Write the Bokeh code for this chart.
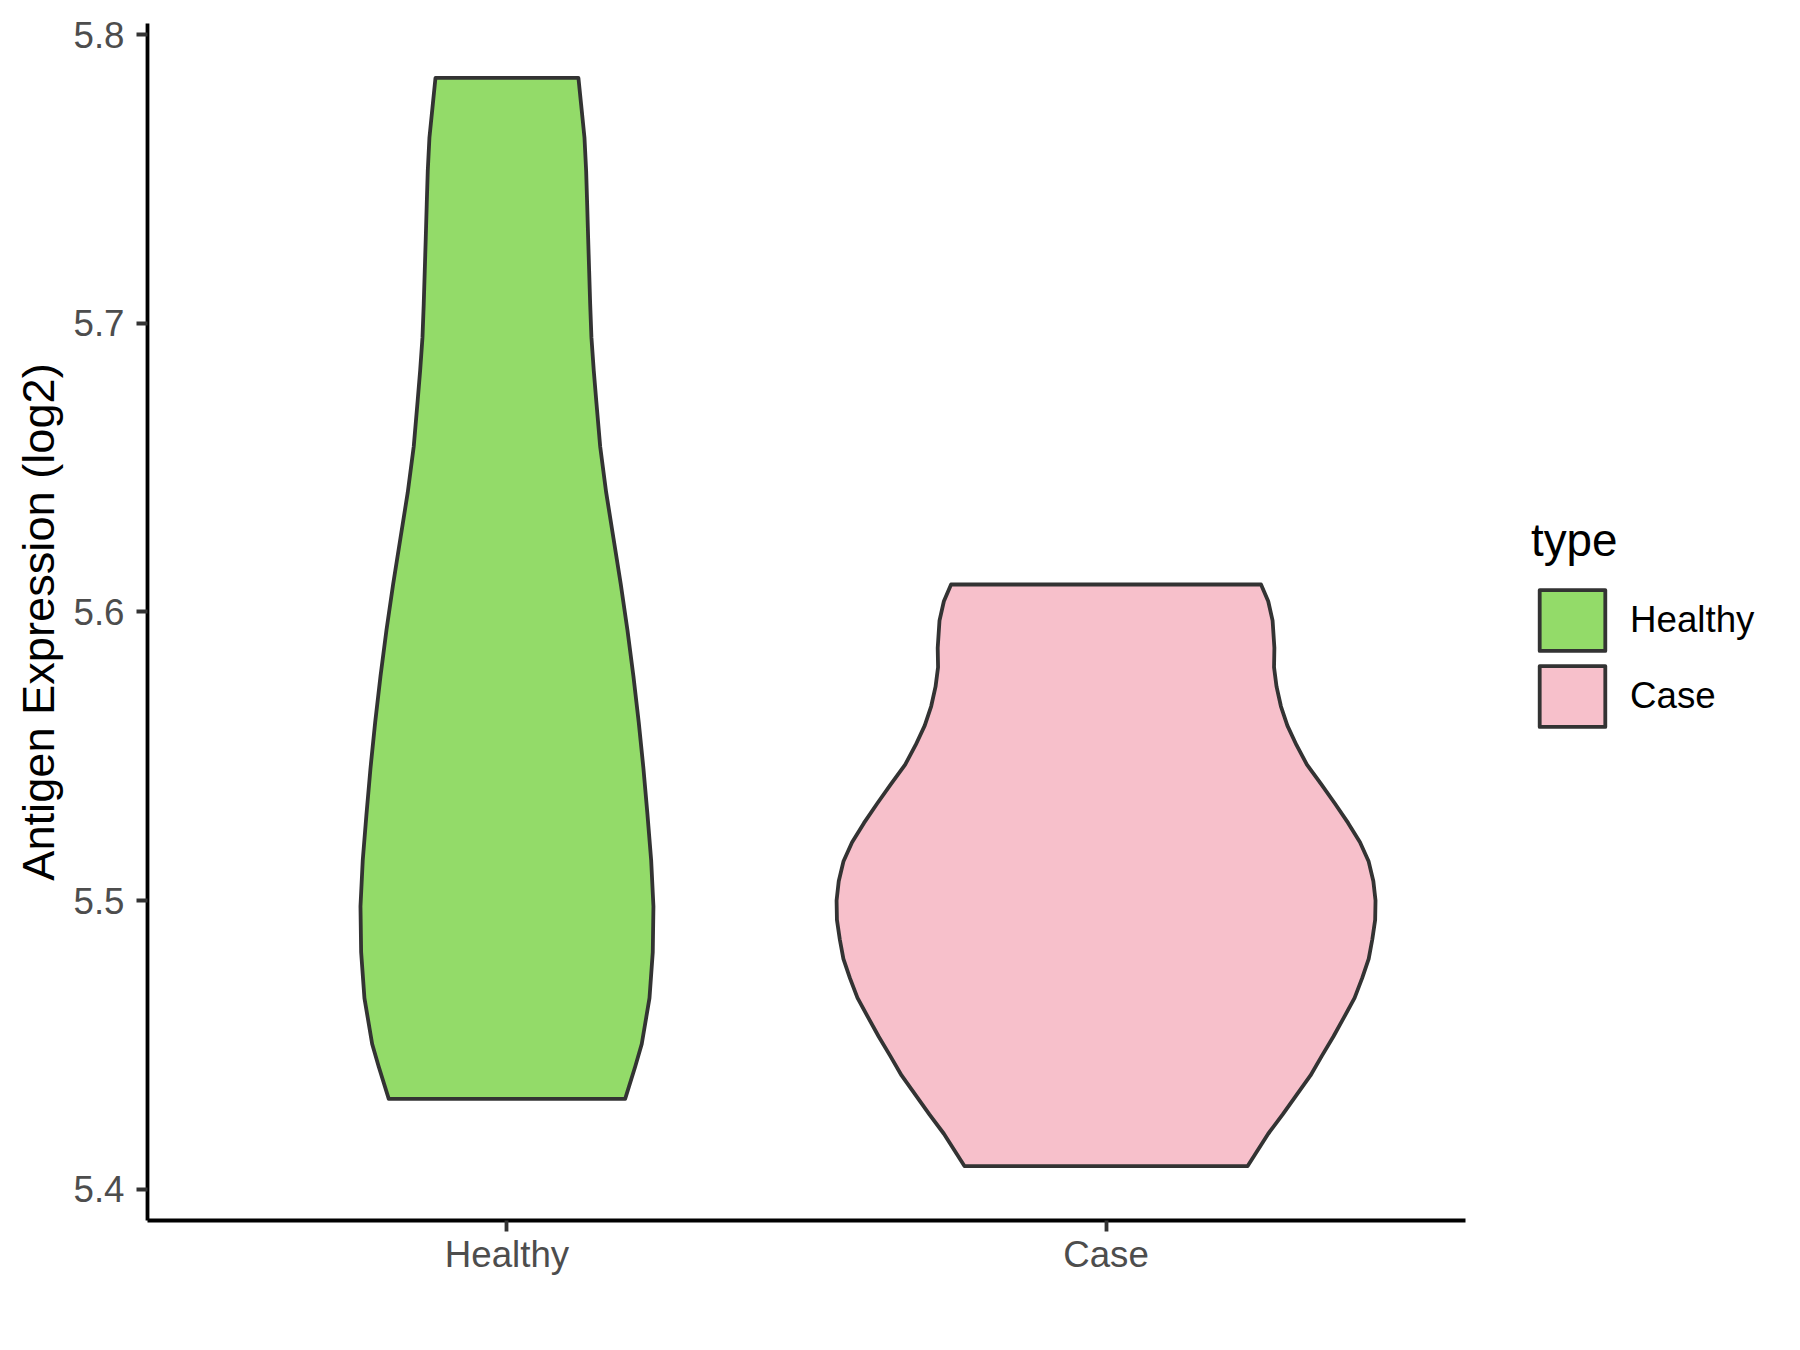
from bokeh.plotting import figure
from bokeh.models import FactorRange, Range1d, FixedTicker, Legend, LegendItem
from bokeh.embed import file_html
from bokeh.resources import INLINE

# ---- data ----
categories = ["Healthy", "Case"]
fill_colors = ["#93DB69", "#F7C0CB"]

# violin outline: expression value and half-width (in category units)
healthy_y = [5.7850, 5.7758, 5.7643, 5.7527, 5.7412, 5.7297, 5.7182, 5.7067,
             5.6951, 5.6836, 5.6733, 5.6573, 5.6414, 5.6255, 5.6096, 5.5937,
             5.5777, 5.5617, 5.5458, 5.5299, 5.5140, 5.4980, 5.4821, 5.4662,
             5.4503, 5.4424, 5.4313]
healthy_half = [0.1193, 0.1238, 0.1294, 0.1322, 0.1339, 0.1355, 0.1372, 0.1389,
                0.1410, 0.1449, 0.1490, 0.1556, 0.1656, 0.1778, 0.1900, 0.2011,
                0.2111, 0.2200, 0.2278, 0.2345, 0.2407, 0.2445, 0.2434, 0.2379,
                0.2250, 0.2140, 0.1973]

case_y = [5.6095, 5.6037, 5.5970, 5.5875, 5.5808, 5.5741, 5.5673, 5.5606,
          5.5539, 5.5471, 5.5404, 5.5337, 5.5269, 5.5202, 5.5135, 5.5067,
          5.5000, 5.4933, 5.4865, 5.4798, 5.4731, 5.4663, 5.4596, 5.4528,
          5.4461, 5.4394, 5.4326, 5.4259, 5.4192, 5.4080]
case_half = [0.2587, 0.2707, 0.2780, 0.2810, 0.2804, 0.2846, 0.2919, 0.3027,
             0.3178, 0.3353, 0.3588, 0.3817, 0.4040, 0.4239, 0.4384, 0.4462,
             0.4498, 0.4492, 0.4444, 0.4384, 0.4275, 0.4149, 0.3974, 0.3793,
             0.3600, 0.3413, 0.3178, 0.2949, 0.2707, 0.2364]

y_ticks = [5.4, 5.5, 5.6, 5.7, 5.8]
y_label = "Antigen Expression (log2)"
legend_title = "type"

FONT = "Liberation Sans"

all_y = healthy_y + case_y
lo, hi = min(all_y), max(all_y)
pad = 0.05 * (hi - lo)

p = figure(
    x_range=FactorRange(factors=categories, range_padding=0.1,
                        range_padding_units="absolute"),
    y_range=Range1d(lo - pad, hi + pad),
    frame_width=1318, frame_height=1197,
    min_border_left=147, min_border_right=319,
    min_border_top=23, min_border_bottom=114,
    output_backend="svg", toolbar_location=None,
)
p.outline_line_color = None
p.grid.visible = False
p.background_fill_color = "white"
p.border_fill_color = "white"


def violin(cat, ys, half):
    xs = [(cat, -h) for h in half] + [(cat, h) for h in reversed(half)]
    yy = list(ys) + list(reversed(ys))
    return xs, yy


renderers = []
for cat, ys, half, col in [(categories[0], healthy_y, healthy_half, fill_colors[0]),
                           (categories[1], case_y, case_half, fill_colors[1])]:
    xs, yy = violin(cat, ys, half)
    r = p.patch(x=xs, y=yy, fill_color=col, line_color="#333333",
                line_width=3.8, line_join="round")
    renderers.append(r)

# axes
for ax in (p.xaxis[0], p.yaxis[0]):
    ax.axis_line_color = "black"
    ax.axis_line_width = 3.8
    ax.major_tick_line_color = "#333333"
    ax.major_tick_line_width = 3.8
    ax.major_tick_in = 0
    ax.major_tick_out = 11
    ax.minor_tick_line_color = None
    ax.major_label_text_font = FONT
    ax.major_label_text_font_size = "36.7px"
    ax.major_label_text_color = "#4D4D4D"

p.yaxis.ticker = FixedTicker(ticks=y_ticks)
p.yaxis.major_label_standoff = 12
p.xaxis.major_label_standoff = 2
p.yaxis.axis_label = y_label
p.yaxis.axis_label_text_font = FONT
p.yaxis.axis_label_text_font_size = "45.2px"
p.yaxis.axis_label_text_font_style = "normal"
p.yaxis.axis_label_text_color = "black"
p.yaxis.axis_label_standoff = 6

legend = Legend(
    items=[LegendItem(label=categories[0], renderers=[renderers[0]]),
           LegendItem(label=categories[1], renderers=[renderers[1]])],
    title=legend_title,
    location=(66, 486),
    orientation="vertical",
    glyph_width=82, glyph_height=76, spacing=0,
    label_standoff=17, padding=0, margin=0,
    border_line_color=None, background_fill_alpha=0,
    title_text_font=FONT, title_text_font_size="45.8px",
    title_text_font_style="normal", title_text_color="black",
    title_standoff=15,
    label_text_font=FONT, label_text_font_size="36.7px",
    label_text_color="black",
)
p.add_layout(legend, "right")

open("out.html", "w").write(file_html(p, INLINE))
